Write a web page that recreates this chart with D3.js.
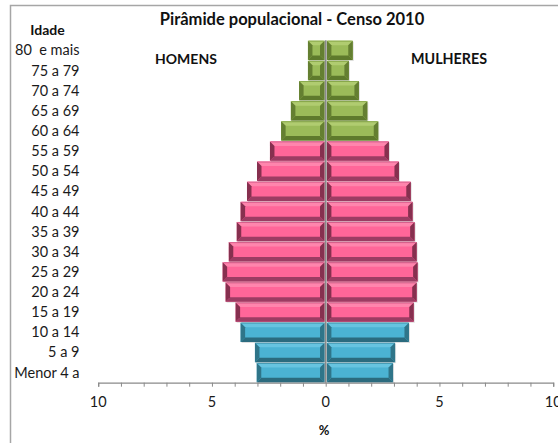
<!DOCTYPE html>
<html>
<head>
<meta charset="utf-8">
<script src="https://d3js.org/d3.v7.min.js"></script>
<style>
  html, body { margin: 0; padding: 0; background: #fff; }
  svg { display: block; font-family: Lato, "Open Sans", sans-serif; }
  .rotulo { font-size: 14.5px; fill: #1a1a1a; }
  .negrito { font-weight: bold; fill: #111; }
</style>
</head>
<body>
<script>
// faixas etarias, de baixo para cima
var idades = ["Menor 4 a", "5 a 9", "10 a 14", "15 a 19", "20 a 24", "25 a 29",
              "30 a 34", "35 a 39", "40 a 44", "45 a 49", "50 a 54", "55 a 59",
              "60 a 64", "65 a 69", "70 a 74", "75 a 79", "80  e mais"];
// % da populacao
var homens   = [3.03, 3.11, 3.74, 3.96, 4.40, 4.53, 4.26, 3.91, 3.74, 3.46, 3.02, 2.45,
                1.96, 1.53, 1.17, 0.78, 0.78];
var mulheres = [2.96, 3.05, 3.66, 3.87, 4.00, 4.04, 4.00, 3.91, 3.82, 3.74, 3.22, 2.78,
                2.31, 1.83, 1.46, 1.02, 1.19];
var grupos   = ["jovem", "jovem", "jovem", "adulto", "adulto", "adulto", "adulto", "adulto",
                "adulto", "adulto", "adulto", "adulto", "idoso", "idoso", "idoso", "idoso", "idoso"];
var ticksX = [-10, -5, 0, 5, 10];

var cores = {
  jovem:  { base: "#4bb3d3", topo: "#66c4e0", baixo: "#2b6b7e", lado: "#2f7589" },
  adulto: { base: "#ff6699", topo: "#ff85ad", baixo: "#9c3c63", lado: "#86304f" },
  idoso:  { base: "#9bbb59", topo: "#b0cc70", baixo: "#5e7a2c", lado: "#647f31" }
};

var W = 558, H = 443;
var svg = d3.select("body").append("svg").attr("width", W).attr("height", H);

// moldura
svg.append("rect")
  .attr("x", 10.5).attr("y", 5.5).attr("width", 700).attr("height", 600)
  .attr("fill", "none").attr("stroke", "#a6a6a6").attr("stroke-width", 1.5);

var x = d3.scaleLinear().domain([-10, 10]).range([98.2, 553.2]);
var y = d3.scaleBand().domain(idades).range([382.7, 40.3]).paddingInner(0.04).paddingOuter(0.02);

var dados = idades.map(function (d, i) {
  return { idade: d, h: homens[i], m: mulheres[i], g: grupos[i] };
});

var barras = [];
dados.forEach(function (d) {
  barras.push({ x0: x(-d.h), x1: x(0) - 1.2, y0: y(d.idade), y1: y(d.idade) + y.bandwidth(), g: d.g });
  barras.push({ x0: x(0) + 1.2, x1: x(d.m), y0: y(d.idade), y1: y(d.idade) + y.bandwidth(), g: d.g });
});

var gb = svg.append("g");
barras.forEach(function (b) {
  var c = cores[b.g];
  var e = Math.min(4.5, (b.x1 - b.x0) / 2, (b.y1 - b.y0) / 2);
  var g = gb.append("g");
  // sombra
  g.append("rect").attr("x", b.x0 + 1).attr("y", b.y0 + 1)
    .attr("width", b.x1 - b.x0).attr("height", b.y1 - b.y0)
    .attr("fill", "#000").attr("opacity", 0.12);
  g.append("rect").attr("x", b.x0).attr("y", b.y0)
    .attr("width", b.x1 - b.x0).attr("height", b.y1 - b.y0)
    .attr("fill", c.base);
  var poly = function (pts, cor) {
    g.append("polygon").attr("points", pts.map(function (p) { return p.join(","); }).join(" ")).attr("fill", cor);
  };
  poly([[b.x0, b.y0], [b.x1, b.y0], [b.x1 - e, b.y0 + e], [b.x0 + e, b.y0 + e]], c.topo);
  poly([[b.x0, b.y1], [b.x1, b.y1], [b.x1 - e, b.y1 - e], [b.x0 + e, b.y1 - e]], c.baixo);
  poly([[b.x0, b.y0], [b.x0 + e, b.y0 + e], [b.x0 + e, b.y1 - e], [b.x0, b.y1]], c.lado);
  poly([[b.x1, b.y0], [b.x1 - e, b.y0 + e], [b.x1 - e, b.y1 - e], [b.x1, b.y1]], c.lado);
  // linha no topo
  g.append("line").attr("x1", b.x0 + 1).attr("x2", b.x1 - 1).attr("y1", b.y0 + 0.5).attr("y2", b.y0 + 0.5)
    .attr("stroke", d3.color(c.baixo).brighter(0.6)).attr("stroke-width", 1).attr("opacity", 0.6);
});

// linha central
svg.append("line")
  .attr("x1", x(0)).attr("x2", x(0)).attr("y1", y.range()[1]).attr("y2", y.range()[0])
  .attr("stroke", "#8a8a8a").attr("stroke-width", 1.8);

// eixo x
var eixo = d3.axisBottom(x).tickValues(d3.range(-10, 11, 1)).tickSize(4).tickFormat("");
var gx = svg.append("g").attr("transform", "translate(0," + 382.7 + ")").call(eixo);
gx.select(".domain").attr("stroke", "#8a8a8a").attr("stroke-width", 1.2);
gx.selectAll(".tick line").attr("stroke", "#8a8a8a");

svg.append("g").selectAll("text").data(ticksX).join("text")
  .attr("class", "rotulo")
  .attr("x", function (d) { return x(d); })
  .attr("y", 407)
  .attr("text-anchor", "middle")
  .text(function (d) { return Math.abs(d); });

// rotulos das idades
svg.append("g").selectAll("text").data(idades).join("text")
  .attr("class", "rotulo")
  .attr("x", 79.5)
  .attr("y", function (d) { return y(d) + y.bandwidth() / 2 + 5; })
  .attr("text-anchor", "end")
  .style("white-space", "pre")
  .text(function (d) { return d; });

svg.append("text").attr("class", "rotulo negrito").attr("x", 47.5).attr("y", 35)
  .attr("text-anchor", "middle").style("font-size", "14px").text("Idade");
svg.append("text").attr("class", "rotulo negrito").attr("x", 292).attr("y", 25)
  .attr("text-anchor", "middle").style("font-size", "16.5px").text("Pirâmide populacional - Censo 2010");
svg.append("text").attr("class", "rotulo negrito").attr("x", 155).attr("y", 64)
  .style("font-size", "14px").text("HOMENS");
svg.append("text").attr("class", "rotulo negrito").attr("x", 411).attr("y", 64)
  .style("font-size", "14.3px").text("MULHERES");
svg.append("text").attr("class", "rotulo negrito").attr("x", 324).attr("y", 435)
  .attr("text-anchor", "middle").style("font-size", "13px").text("%");
</script>
</body>
</html>
